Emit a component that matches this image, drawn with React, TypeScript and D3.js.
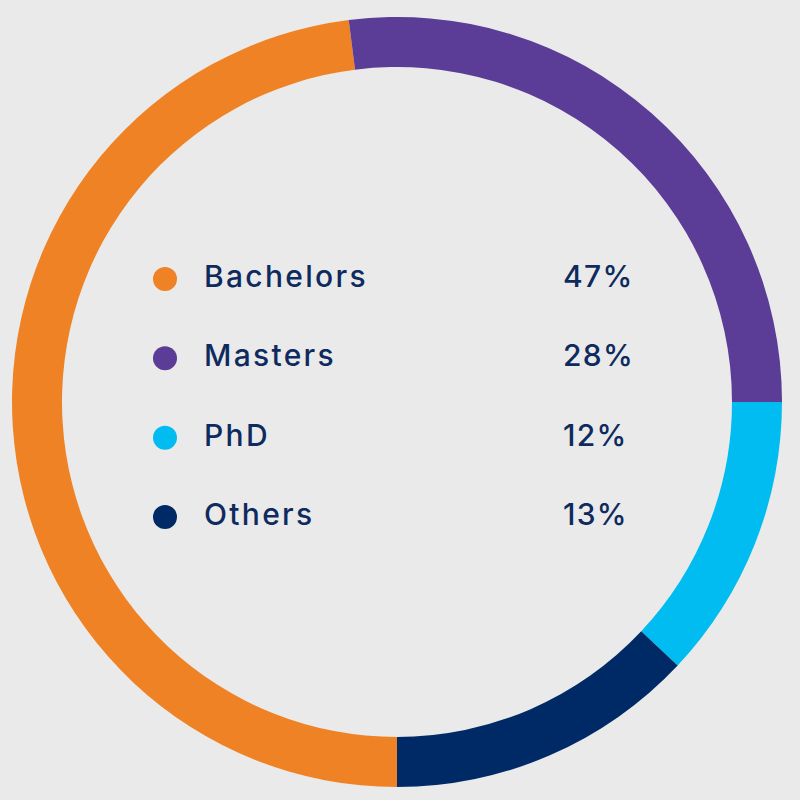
import { useEffect, useRef } from 'react';
import * as d3 from 'd3';

// legend rows, in the order they are listed
const CATEGORIES = ['Bachelors', 'Masters', 'PhD', 'Others'];
const PERCENT_LABELS = ['47%', '28%', '12%', '13%'];
// share of the ring each segment actually takes in the picture
const RING_SHARES = [48, 27, 12, 13];
const COLORS = ['#EF8224', '#5B3C97', '#00BCF0', '#002A66'];
// ring is drawn clockwise starting at 3 o'clock with PhD
const RING_ORDER = ['PhD', 'Others', 'Bachelors', 'Masters'];

const W = 800;
const H = 800;
const TEXT = '#0E2A5E';

export default function App() {
  const svgRef = useRef<SVGSVGElement>(null);

  useEffect(() => {
    const el = svgRef.current;
    if (!el) return;
    document.body.style.margin = '0';
    const svg = d3.select(el);
    svg.selectAll('*').remove();

    svg.append('rect').attr('width', W).attr('height', H).attr('fill', '#EAEAEA');

    const cx = 397;
    const cy = 402;
    const outerR = 385;
    const innerR = 335;

    const rows = CATEGORIES.map((c, i) => ({
      name: c,
      pct: PERCENT_LABELS[i],
      share: RING_SHARES[i],
      color: COLORS[i],
    }));

    const pie = d3
      .pie<(typeof rows)[number]>()
      .value((d) => d.share)
      .sort((a, b) => RING_ORDER.indexOf(a.name) - RING_ORDER.indexOf(b.name))
      .startAngle(Math.PI / 2)
      .endAngle(Math.PI / 2 + 2 * Math.PI);

    const arc = d3
      .arc<d3.PieArcDatum<(typeof rows)[number]>>()
      .innerRadius(innerR)
      .outerRadius(outerR);

    const g = svg.append('g').attr('transform', `translate(${cx},${cy})`);
    g.selectAll('path')
      .data(pie(rows))
      .join('path')
      .attr('d', arc)
      .attr('fill', (d) => d.data.color);

    // legend
    const y = d3.scalePoint<string>().domain(CATEGORIES).range([279, 517]);
    const legend = svg.append('g');
    rows.forEach((r) => {
      const ry = y(r.name) || 0;
      legend
        .append('circle')
        .attr('cx', 165)
        .attr('cy', ry)
        .attr('r', 12)
        .attr('fill', r.color);
      legend
        .append('text')
        .attr('x', 204)
        .attr('y', ry + 8)
        .attr('font-family', 'Inter, "Noto Sans", sans-serif')
        .attr('font-size', '30px')
        .attr('font-weight', 500)
        .attr('letter-spacing', '2.3px')
        .attr('fill', TEXT)
        .text(r.name);
      legend
        .append('text')
        .attr('x', 563)
        .attr('y', ry + 8)
        .attr('font-family', 'Inter, "Noto Sans", sans-serif')
        .attr('font-size', '30px')
        .attr('font-weight', 500)
        .attr('letter-spacing', '1.3px')
        .attr('fill', TEXT)
        .text(r.pct);
    });
  }, []);

  return (
    <svg
      ref={svgRef}
      width={W}
      height={H}
      style={{ position: 'absolute', left: 0, top: 0, display: 'block' }}
    />
  );
}
